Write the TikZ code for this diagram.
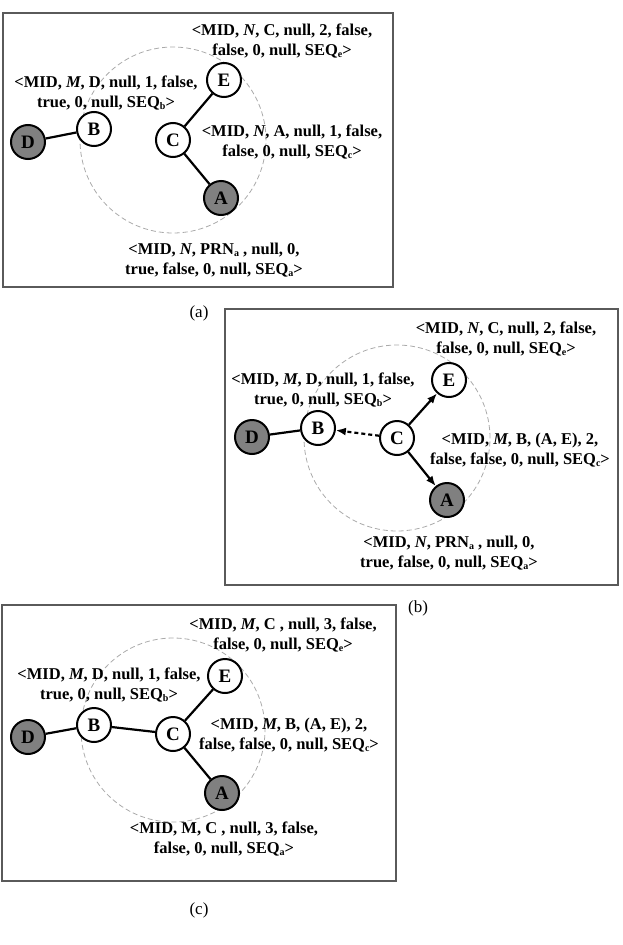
\documentclass[tikz,border=0pt]{standalone}
\usepackage{fontspec}
\setmainfont{Liberation Serif}
\usetikzlibrary{arrows.meta}
\definecolor{leafgray}{RGB}{128,128,128}
\definecolor{framegray}{RGB}{90,90,90}
\definecolor{guidegray}{RGB}{170,170,170}
\newcommand{\low}[1]{\raisebox{-2.5pt}{\fontsize{10}{10}\selectfont #1}}
\newcommand{\sq}[1]{SEQ\low{#1}}

\begin{document}
\begin{tikzpicture}[x=1pt, y=-1pt,
    vertex/.style={circle, draw, line width=2pt, fill=white, minimum size=34pt, inner sep=0pt, font=\bfseries\fontsize{19}{19}\selectfont},
    leaf/.style={vertex, fill=leafgray},
    info/.style={align=center, inner sep=0pt, font=\bfseries\fontsize{16.5}{20}\selectfont},
    frame/.style={draw=framegray, line width=1.2pt},
    guide/.style={draw=guidegray, line width=0.8pt, dash pattern=on 5pt off 3pt},
    link/.style={line width=2.2pt},
    tip/.style={-{Latex[length=10pt,width=8pt]}},
    tag/.style={font=\fontsize{17}{17}\selectfont}]
    \useasboundingbox (0,0) rectangle (622,945);

    % (a)
    \draw[frame] (3,13) rectangle (393,287);
    \draw[guide] (173,140) circle (93pt);
    \node[vertex] (aE) at (224,80) {E};
    \node[vertex] (aB) at (94,129) {B};
    \node[leaf] (aD) at (28,142) {D};
    \node[vertex] (aC) at (173,140) {C};
    \node[leaf] (aA) at (221,198) {A};
    \draw[link] (aD) -- (aB);
    \draw[link] (aC) -- (aE);
    \draw[link] (aC) -- (aA);
    \node[info] (aEt) at (282,41) {<MID, \textit{N}, C, null, 2, false,\\ false, 0, null, \sq{e}>};
    \node[info] (aBt) at (106,93) {<MID, \textit{M}, D, null, 1, false,\\ true, 0, null, \sq{b}>};
    \node[info] (aCt) at (292,142) {<MID, \textit{N}, A, null, 1, false,\\ false, 0, null, \sq{c}>};
    \node[info] (aAt) at (214,260) {<MID, \textit{N}, PRN\low{a} , null, 0,\\ true, false, 0, null, \sq{a}>};
    \node[tag] (la) at (199,313) {(a)};

    % (b)
    \draw[frame] (225,309) rectangle (618,585);
    \draw[guide] (397,438) circle (93pt);
    \node[vertex] (bE) at (449,380) {E};
    \node[vertex] (bB) at (318,428) {B};
    \node[leaf] (bD) at (252,437) {D};
    \node[vertex] (bC) at (397,438) {C};
    \node[leaf] (bA) at (447,500) {A};
    \draw[link] (bD) -- (bB);
    \draw[link, tip] (bC) -- (bE);
    \draw[link, tip] (bC) -- (bA);
    \draw[link, tip, dash pattern=on 4pt off 3pt] (bC) -- (bB);
    \node[info] (bEt) at (506,339) {<MID, \textit{N}, C, null, 2, false,\\ false, 0, null, \sq{e}>};
    \node[info] (bBt) at (323,390) {<MID, \textit{M}, D, null, 1, false,\\ true, 0, null, \sq{b}>};
    \node[info] (bCt) at (520,450) {<MID, \textit{M}, B, (A, E), 2,\\ false, false, 0, null, \sq{c}>};
    \node[info] (bAt) at (449,553) {<MID, \textit{N}, PRN\low{a} , null, 0,\\ true, false, 0, null, \sq{a}>};
    \node[tag] (lb) at (418,608) {(b)};

    % (c)
    \draw[frame] (2,605) rectangle (396,881);
    \draw[guide] (173,730) circle (92pt);
    \node[vertex] (cE) at (225,676) {E};
    \node[vertex] (cB) at (94,725) {B};
    \node[leaf] (cD) at (28,737) {D};
    \node[vertex] (cC) at (173,734) {C};
    \node[leaf] (cA) at (222,793) {A};
    \draw[link] (cD) -- (cB);
    \draw[link] (cB) -- (cC);
    \draw[link] (cC) -- (cE);
    \draw[link] (cC) -- (cA);
    \node[info] (cEt) at (283,635) {<MID, \textit{M}, C , null, 3, false,\\ false, 0, null, \sq{e}>};
    \node[info] (cBt) at (109,685) {<MID, \textit{M}, D, null, 1, false,\\ true, 0, null, \sq{b}>};
    \node[info] (cCt) at (289,735) {<MID, \textit{M}, B, (A, E), 2,\\ false, false, 0, null, \sq{c}>};
    \node[info] (cAt) at (224,839) {<MID, M, C , null, 3, false,\\ false, 0, null, \sq{a}>};
    \node[tag] (lc) at (199,910) {(c)};
\end{tikzpicture}
\end{document}
